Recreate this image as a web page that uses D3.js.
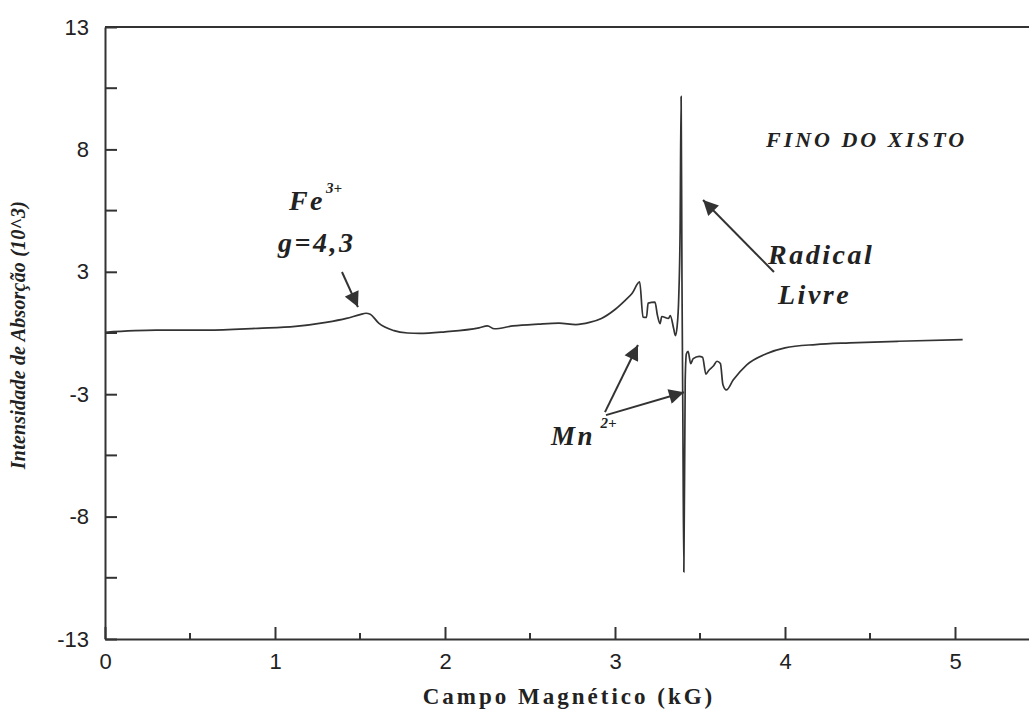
<!DOCTYPE html>
<html><head><meta charset="utf-8">
<script src="https://cdn.jsdelivr.net/npm/d3@7"></script>
<style>
body{margin:0;background:#fff;}
svg{display:block;}
</style></head>
<body>
<script>
// ---- data ----
const fieldKG = [0,0.3,0.6,0.9,1.12,1.3,1.42,1.5,1.535,1.56,1.61,1.7,1.78,1.85,2.0,2.2,2.25,2.29,2.4,2.55,2.67,2.77,2.85,2.92,3.0,3.06,3.10,3.145,3.165,3.185,3.195,3.235,3.25,3.265,3.275,3.315,3.325,3.345,3.355,3.365,3.375,3.383,3.389,3.394,3.399,3.405,3.413,3.42,3.43,3.445,3.46,3.495,3.515,3.535,3.55,3.58,3.60,3.62,3.635,3.655,3.695,3.775,3.89,4.0,4.18,4.38,4.67,5.045];
const intensity = [0.03,0.12,0.12,0.2,0.28,0.45,0.62,0.78,0.84,0.8,0.42,0.1,0.0,-0.02,0.05,0.22,0.3,0.18,0.3,0.38,0.42,0.36,0.45,0.62,1.0,1.39,1.68,2.17,0.67,0.66,1.27,1.31,0.74,0.4,0.7,0.62,0.74,0.19,-0.11,0.25,1.53,4.4,10.05,2.2,-3.4,-10.15,-2.0,-0.88,-0.78,-1.3,-1.09,-0.99,-1.03,-1.75,-1.6,-1.39,-1.2,-1.3,-2.2,-2.42,-2.0,-1.35,-0.88,-0.63,-0.49,-0.42,-0.35,-0.28];
const xTicks = [0,1,2,3,4,5];
const xMinorTicks = [0.5,1.5,2.5,3.5,4.5];
const yTicks = [13,7.8,2.6,-2.6,-7.8,-13];
const yTickLabels = ["13","8","3","-3","-8","-13"];
const yMinorTicks = [10.4,5.2,0,-5.2,-10.4];
const xTitle = "Campo Magnético (kG)";
const yTitle = "Intensidade de Absorção (10^3)";
// annotations (data units)
const labels = [
  {t:"Fe", x:1.082, y:5.23, s:28, ls:2.5},
  {t:"3+", x:1.30, y:5.95, s:15, ls:0},
  {t:"g=4,3", x:1.018, y:3.44, s:28, ls:2.5},
  {t:"FINO DO XISTO", x:3.888, y:7.9, s:22, ls:3},
  {t:"Radical", x:3.90, y:2.93, s:28, ls:2.5},
  {t:"Livre", x:3.959, y:1.23, s:28, ls:2.5},
  {t:"Mn", x:2.624, y:-4.76, s:27, ls:2.5},
  {t:"2+", x:2.915, y:-4.03, s:15, ls:0}
];
const arrows = [
  {x1:1.394, y1:2.59, x2:1.488, y2:1.10},
  {x1:3.935, y1:2.59, x2:3.518, y2:5.65},
  {x1:2.941, y1:-3.36, x2:3.135, y2:-0.51},
  {x1:2.947, y1:-3.49, x2:3.406, y2:-2.52}
];

// ---- layout ----
const W = 1029, H = 713;
const mLeft = 105, mTop = 27, mBottom = 639;
const x = d3.scaleLinear().domain([0,5.5]).range([mLeft, mLeft + 5.5*170]);
const y = d3.scaleLinear().domain([-13,13]).range([mBottom, mTop]);
const ink = "#333";

const svg = d3.select("body").append("svg").attr("width",W).attr("height",H);

// frame: top line
svg.append("line").attr("x1",mLeft).attr("x2",W).attr("y1",mTop).attr("y2",mTop)
  .attr("stroke",ink).attr("stroke-width",2);

// x axis
const xAxis = d3.axisBottom(x).tickValues(xTicks).tickSize(-12).tickSizeOuter(0).tickPadding(14)
  .tickFormat(d3.format("d"));
const gx = svg.append("g").attr("transform",`translate(0,${mBottom})`).call(xAxis);
gx.select(".domain").attr("stroke",ink).attr("stroke-width",2);
gx.selectAll(".tick line").attr("stroke",ink).attr("stroke-width",2);
gx.selectAll(".tick text").attr("font-family","Liberation Sans, Arial, sans-serif").attr("font-size",22).attr("fill","#222");
gx.selectAll(".minor").data(xMinorTicks).enter().append("line").attr("class","minor")
  .attr("x1",d=>x(d)).attr("x2",d=>x(d)).attr("y1",0).attr("y2",-6)
  .attr("stroke",ink).attr("stroke-width",2);

// y axis
const yAxis = d3.axisLeft(y).tickValues(yTicks).tickSize(-12).tickSizeOuter(0).tickPadding(16)
  .tickFormat((d,i)=>yTickLabels[i]);
const gy = svg.append("g").attr("transform",`translate(${mLeft},0)`).call(yAxis);
gy.select(".domain").attr("stroke",ink).attr("stroke-width",2);
gy.selectAll(".tick line").attr("stroke",ink).attr("stroke-width",2);
gy.selectAll(".tick text").attr("font-family","Liberation Sans, Arial, sans-serif").attr("font-size",22).attr("fill","#222");
gy.selectAll(".minor").data(yMinorTicks).enter().append("line").attr("class","minor")
  .attr("y1",d=>y(d)).attr("y2",d=>y(d)).attr("x1",0).attr("x2",12)
  .attr("stroke",ink).attr("stroke-width",2);

// titles
svg.append("text").attr("x",569).attr("y",704).attr("text-anchor","middle")
  .attr("font-family","Liberation Serif, Times New Roman, serif").attr("font-weight","bold")
  .attr("font-size",23).attr("letter-spacing",3).attr("fill","#222").text(xTitle);
svg.append("text").attr("transform",`translate(25,${(mTop+mBottom)/2+2}) rotate(-90)`).attr("text-anchor","middle")
  .attr("font-family","Liberation Serif, Times New Roman, serif").attr("font-weight","bold").attr("font-style","italic")
  .attr("font-size",20).attr("letter-spacing",0.2).attr("fill","#222").text(yTitle);

// spectrum
const pts = fieldKG.map((f,i)=>[f,intensity[i]]);
svg.append("path").datum(pts)
  .attr("d", d3.line().x(d=>x(d[0])).y(d=>y(d[1])).curve(d3.curveMonotoneX))
  .attr("fill","none").attr("stroke",ink).attr("stroke-width",1.7).attr("stroke-linejoin","round");

// arrows
const defs = svg.append("defs");
defs.append("marker").attr("id","ah").attr("viewBox","0 0 10 10").attr("refX",10).attr("refY",5)
  .attr("markerUnits","userSpaceOnUse").attr("markerWidth",17).attr("markerHeight",15).attr("orient","auto")
  .append("path").attr("d","M0,0 L10,5 L0,10 Z").attr("fill",ink);
svg.selectAll(".arr").data(arrows).enter().append("line").attr("class","arr")
  .attr("x1",d=>x(d.x1)).attr("y1",d=>y(d.y1)).attr("x2",d=>x(d.x2)).attr("y2",d=>y(d.y2))
  .attr("stroke",ink).attr("stroke-width",2).attr("marker-end","url(#ah)");

// annotation labels
svg.selectAll(".lab").data(labels).enter().append("text").attr("class","lab")
  .attr("x",d=>x(d.x)).attr("y",d=>y(d.y))
  .attr("font-family","Liberation Serif, Times New Roman, serif").attr("font-weight","bold").attr("font-style","italic")
  .attr("font-size",d=>d.s).attr("letter-spacing",d=>d.ls).attr("fill","#222").text(d=>d.t);
</script>
</body></html>
